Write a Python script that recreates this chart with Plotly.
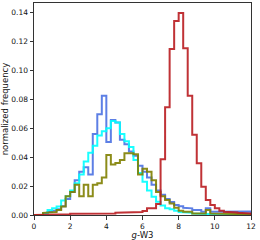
import numpy as np
import plotly.graph_objects as go

bin_width = 0.25
x_min, x_max = 0.0, 12.0

blue_vals = [0, 0, 0.001, 0.002, 0.003, 0.004, 0.006, 0.011, 0.016, 0.024,
             0.030, 0.033, 0.028, 0.056, 0.0697, 0.0826, 0.0505, 0.0657, 0.064, 0.052,
             0.049, 0.044, 0.041, 0.034, 0.030, 0.026, 0.021, 0.017, 0.014, 0.011,
             0.009, 0.007, 0.006, 0.005, 0.0046, 0.0035, 0.0035, 0.0023, 0.0046, 0.0023,
             0.0023, 0.0023, 0.002, 0.002, 0.0025, 0.0025, 0.0025, 0.0025]

cyan_vals = [0, 0, 0.001, 0.0035, 0.0046, 0.0058, 0.010, 0.013, 0.017, 0.022,
             0.028, 0.037, 0.043, 0.048, 0.055, 0.058, 0.060, 0.065, 0.064, 0.056,
             0.051, 0.047, 0.038, 0.029, 0.023, 0.017, 0.0127, 0.0092, 0.0065, 0.0046,
             0.004, 0.003, 0.002, 0.0015, 0.0015, 0.001, 0.001, 0.0005, 0.0005, 0.0005,
             0, 0, 0, 0, 0, 0, 0, 0]

olive_vals = [0, 0, 0.0015, 0.002, 0.002, 0.0035, 0.0058, 0.013, 0.016, 0.021,
              0.013, 0.021, 0.013, 0.021, 0.022, 0.026, 0.0415, 0.035, 0.036, 0.038,
              0.0427, 0.0427, 0.042, 0.028, 0.032, 0.030, 0.024, 0.016, 0.013, 0.0104,
              0.008, 0.005, 0.003, 0.0023, 0.0023, 0.001, 0.001, 0.001, 0.0035, 0.001,
              0.001, 0.0005, 0.0005, 0.0005, 0.0005, 0.0005, 0.0005, 0.0005]

red_vals = [0, 0, 0, 0.0005, 0.0005, 0.0005, 0.0005, 0.0005, 0.0008, 0.0008,
            0.0008, 0.0008, 0.0008, 0.0008, 0.001, 0.001, 0.001, 0.001, 0.0015, 0.0015,
            0.0015, 0.0015, 0.002, 0.002, 0.0028, 0.0046, 0.0046, 0.0076, 0.0385, 0.0745,
            0.1149, 0.1343, 0.1397, 0.1154, 0.0826, 0.0556, 0.0358, 0.0196, 0.0104, 0.0069,
            0.0046, 0.003, 0.0023, 0.0023, 0.0018, 0.0015, 0.0012, 0.001]

x_ticks = [0, 2, 4, 6, 8, 10, 12]
y_ticks = [0.00, 0.02, 0.04, 0.06, 0.08, 0.10, 0.12, 0.14]

edges = np.arange(x_min, x_max + bin_width / 2, bin_width)


def step_xy(vals):
    xs = [edges[0]]
    ys = [0]
    for i, v in enumerate(vals):
        xs += [edges[i], edges[i + 1]]
        ys += [v, v]
    xs.append(edges[-1])
    ys.append(0)
    return xs, ys


series = [
    ("blue", blue_vals, "rgba(65,105,225,0.85)"),
    ("cyan", cyan_vals, "rgba(0,255,255,0.9)"),
    ("olive", olive_vals, "rgba(128,128,0,0.9)"),
    ("red", red_vals, "rgba(185,28,32,0.9)"),
]

fig = go.Figure()
for name, vals, color in series:
    xs, ys = step_xy(vals)
    fig.add_trace(go.Scatter(x=xs, y=ys, mode="lines", name=name,
                             line=dict(color=color, width=2), showlegend=False))

axis_common = dict(showline=True, linecolor="#333", linewidth=1, mirror=True,
                   ticks="outside", ticklen=3.5, tickwidth=0.8, tickcolor="#333",
                   showgrid=False, zeroline=False, automargin=False,
                   tickfont=dict(family="DejaVu Sans", size=7.5, color="#111"))

fig.update_xaxes(range=[x_min, x_max], tickvals=x_ticks,
                 ticktext=[str(t) for t in x_ticks],
                 title=dict(text="<i>g</i>-W3", font=dict(family="DejaVu Sans", size=8.5, color="#111"),
                            standoff=0),
                 **axis_common)
fig.update_yaxes(range=[0, 0.1467], tickvals=y_ticks,
                 ticktext=[f"{t:.2f}" for t in y_ticks],
                 title=dict(text="normalized frequency", font=dict(family="DejaVu Sans", size=8.5, color="#111"),
                            standoff=3),
                 **axis_common)

fig.update_layout(width=260, height=240, margin=dict(l=34, r=9, t=3, b=25),
                  paper_bgcolor="white", plot_bgcolor="white")

fig.write_html("out.html", config={"displayModeBar": False},
               post_script="document.body.style.margin='0';document.body.style.overflow='hidden';")
